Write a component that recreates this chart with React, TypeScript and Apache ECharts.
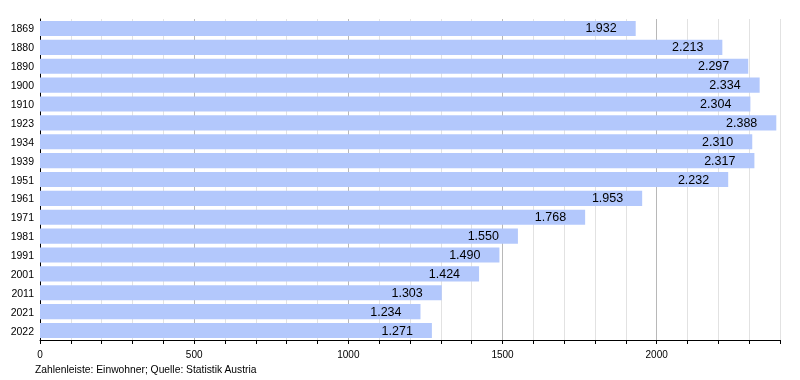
import React, { useEffect, useRef } from "react";
import * as echarts from "echarts";

const years = ["1869", "1880", "1890", "1900", "1910", "1923", "1934", "1939", "1951", "1961", "1971", "1981", "1991", "2001", "2011", "2021", "2022"];
const population = [1932, 2213, 2297, 2334, 2304, 2388, 2310, 2317, 2232, 1953, 1768, 1550, 1490, 1424, 1303, 1234, 1271];
const xTickLabels = [0, 500, 1000, 1500, 2000];
const footnote = "Zahlenleiste: Einwohner; Quelle: Statistik Austria";

const fmt = (v: number) => {
  const s = String(Math.round(v));
  return s.replace(/\B(?=(\d{3})+(?!\d))/g, ".");
};

export default function App() {
  const ref = useRef<HTMLDivElement>(null);
  useEffect(() => {
    if (!ref.current) return;
    const chart = echarts.init(ref.current, undefined, { renderer: "svg" });
    const font = "Liberation Sans, Arial, Helvetica, sans-serif";
    chart.setOption({
      animation: false,
      textStyle: { fontFamily: font },
      grid: { left: 40, right: 20, top: 19, bottom: 40, containLabel: false },
      xAxis: {
        type: "value",
        min: 0,
        max: 2400,
        interval: 100,
        axisLine: { show: true, lineStyle: { color: "#000", width: 1 } },
        axisTick: { show: true, length: 4, lineStyle: { color: "#000" } },
        axisLabel: {
          color: "#000",
          fontSize: 10,
          fontFamily: font,
          margin: 9,
          formatter: (v: number) => (xTickLabels.includes(v) ? String(v) : ""),
        },
        splitLine: {
          show: true,
          lineStyle: { color: ["#b8b8b8", "#e2e2e2", "#e2e2e2", "#e2e2e2", "#e2e2e2"], width: 1 },
        },
      },
      yAxis: {
        type: "category",
        data: years,
        inverse: true,
        axisLine: { show: true, lineStyle: { color: "#000", width: 1 } },
        axisTick: { show: false },
        axisLabel: { color: "#000", fontSize: 10.5, fontFamily: font, margin: 6 },
        splitLine: { show: false },
      },
      series: [
        {
          type: "bar",
          data: population,
          barCategoryGap: "20%",
          itemStyle: { color: "#b3c8fc" },
          label: {
            show: true,
            position: "insideRight",
            distance: 19,
            color: "#000",
            fontSize: 12.5,
            fontFamily: font,
            formatter: (p: any) => fmt(p.value),
          },
        },
      ],
      graphic: [
        {
          type: "text",
          left: 35,
          top: 364,
          style: { text: footnote, fontSize: 10.3, fontFamily: font, fill: "#000" },
        },
      ],
    });
    return () => chart.dispose();
  }, []);
  return <div ref={ref} style={{ position: "fixed", left: 0, top: 0, width: 800, height: 380 }} />;
}
